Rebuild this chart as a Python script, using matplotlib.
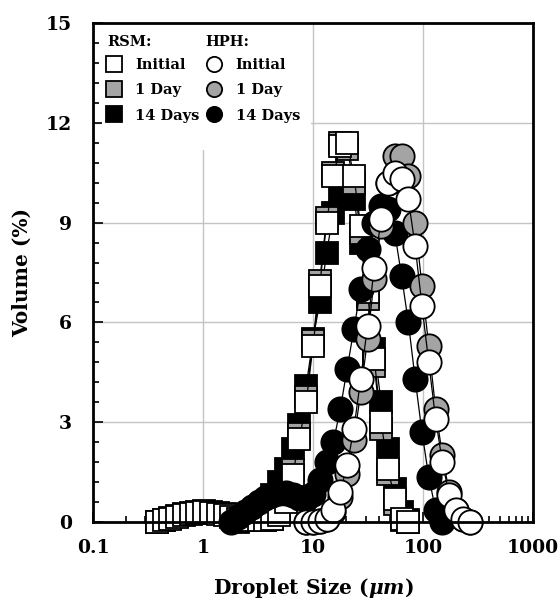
import numpy as np
import matplotlib
matplotlib.use('Agg')
import matplotlib.pyplot as plt
from matplotlib.patches import Rectangle
from matplotlib.lines import Line2D
from matplotlib.ticker import FixedLocator, MultipleLocator, NullFormatter

plt.rcParams['font.family'] = ['DejaVu Serif']
plt.rcParams['font.weight'] = 'bold'
plt.rcParams['mathtext.fontset'] = 'custom'
plt.rcParams['mathtext.it'] = 'DejaVu Serif:italic:bold'
plt.rcParams['mathtext.rm'] = 'DejaVu Serif:bold'

# droplet size bins (um) and volume (%)
rsm_init_x = [0.38, 0.44, 0.50, 0.58, 0.67, 0.77, 0.89, 1.03, 1.18, 1.36, 1.57, 1.81, 2.09, 2.41,
              2.78, 3.20, 3.69, 4.26, 4.91, 5.66, 6.52, 7.52, 8.67, 10.0, 11.5, 13.3, 15.3, 17.7,
              20.4, 23.5, 27.1, 31.3, 36.0, 41.6, 47.9, 55.3, 63.7, 73.5]
rsm_init_y = [0.0, 0.05, 0.10, 0.15, 0.20, 0.25, 0.28, 0.30, 0.28, 0.25, 0.20, 0.15, 0.10, 0.08,
              0.06, 0.05, 0.05, 0.08, 0.20, 0.60, 1.40, 2.50, 3.60, 5.30, 7.10, 9.00, 10.4, 11.3,
              11.4, 10.4, 8.90, 6.90, 4.90, 3.00, 1.60, 0.70, 0.10, 0.0]

rsm_1d_x = rsm_init_x
rsm_1d_y = [0.0, 0.06, 0.12, 0.18, 0.23, 0.28, 0.31, 0.33, 0.31, 0.28, 0.23, 0.18, 0.12, 0.09,
            0.07, 0.06, 0.06, 0.10, 0.30, 0.75, 1.55, 2.65, 3.75, 5.45, 7.25, 9.15, 10.5, 11.4,
            11.2, 10.2, 8.70, 6.70, 4.70, 2.80, 1.45, 0.55, 0.05, 0.0]

rsm_14d_x = [2.09, 2.41, 2.78, 3.20, 3.69, 4.26, 4.91, 5.66, 6.52, 7.52, 8.67, 10.0, 11.5, 13.3,
             15.3, 17.7, 20.4, 23.5, 27.1, 31.3, 36.0, 41.6, 47.9, 55.3, 63.7, 73.5]
rsm_14d_y = [0.0, 0.05, 0.10, 0.20, 0.40, 0.80, 1.20, 1.60, 2.20, 2.90, 4.10, 5.50, 6.60, 8.10,
             9.30, 9.80, 9.80, 9.70, 8.40, 6.80, 5.20, 3.60, 2.20, 1.00, 0.30, 0.05]

hph_init_x = [8.67, 10.0, 11.5, 13.3, 15.3, 17.7, 20.4, 23.5, 27.1, 31.3, 36.0, 41.6, 47.9, 55.3,
              63.7, 73.5, 84.7, 97.7, 112.6, 129.9, 149.7, 172.6, 199.0, 229.5, 264.6]
hph_init_y = [0.0, 0.0, 0.02, 0.10, 0.36, 0.90, 1.70, 2.80, 4.30, 5.90, 7.65, 9.10, 10.2, 10.5,
              10.3, 9.70, 8.30, 6.50, 4.80, 3.10, 1.80, 0.80, 0.35, 0.10, 0.0]

hph_1d_x = hph_init_x
hph_1d_y = [0.0, 0.0, 0.02, 0.08, 0.30, 0.75, 1.45, 2.45, 3.90, 5.50, 7.30, 8.90, 10.2, 11.0,
            11.0, 10.4, 9.00, 7.10, 5.30, 3.40, 2.00, 0.90, 0.35, 0.10, 0.0]

hph_14d_x = [1.81, 2.09, 2.41, 2.78, 3.20, 3.69, 4.26, 4.91, 5.66, 6.52, 7.52, 8.67, 10.0, 11.5,
             13.3, 15.3, 17.7, 20.4, 23.5, 27.1, 31.3, 36.0, 41.6, 47.9, 55.3, 63.7, 73.5, 84.7,
             97.7, 112.6, 129.9, 149.7]
hph_14d_y = [0.0, 0.15, 0.30, 0.45, 0.60, 0.72, 0.82, 0.88, 0.88, 0.82, 0.72, 0.68, 0.85, 1.25,
             1.80, 2.40, 3.40, 4.60, 5.80, 7.00, 8.20, 9.00, 9.50, 9.40, 8.70, 7.40, 6.00, 4.30,
             2.70, 1.36, 0.36, 0.0]

GRAY = '#a4a4a4'

fig = plt.figure(figsize=(5.6, 6.09), dpi=100)
ax = fig.add_axes([0.166, 0.143, 0.786, 0.819])

# drawing order: 14 days below, initial on top; circles over squares
series = [
    (rsm_14d_x, rsm_14d_y, 's', 'black', 16),
    (rsm_1d_x, rsm_1d_y, 's', GRAY, 16),
    (rsm_init_x, rsm_init_y, 's', 'white', 16),
    (hph_14d_x, hph_14d_y, 'o', 'black', 17.5),
    (hph_1d_x, hph_1d_y, 'o', GRAY, 17.5),
    (hph_init_x, hph_init_y, 'o', 'white', 17.5),
]
for i, (x, y, m, fc, ms) in enumerate(series):
    ax.plot(x, y, color='black', lw=0.9, marker=m, ms=ms, mfc=fc, mec='black',
            mew=1.3, zorder=3 + i, clip_on=False)

ax.set_xscale('log')
ax.set_xlim(0.1, 1000)
ax.set_ylim(0, 15)
ax.xaxis.set_major_locator(FixedLocator([0.1, 1, 10, 100, 1000]))
ax.set_xticklabels(['0.1', '1', '10', '100', '1000'])
ax.xaxis.set_minor_locator(FixedLocator([k * 10.0 ** e for e in range(-1, 3) for k in range(2, 10)]))
ax.xaxis.set_minor_formatter(NullFormatter())
ax.yaxis.set_major_locator(MultipleLocator(3))
ax.yaxis.set_minor_locator(MultipleLocator(0.6))

ax.tick_params(which='both', direction='in', top=False, right=False, width=1.2)
ax.tick_params(which='major', length=7, labelsize=13.5)
ax.tick_params(axis='x', which='major', pad=12)
ax.tick_params(axis='y', which='major', pad=15)
ax.tick_params(which='minor', length=4)
for lab in ax.get_xticklabels() + ax.get_yticklabels():
    lab.set_fontweight('bold')

for s in ax.spines.values():
    s.set_linewidth(2)
    s.set_zorder(20)

ax.set_axisbelow(True)
ax.grid(True, which='major', color='#c4c4c4', lw=1)

# white area behind the legend
ax.add_patch(Rectangle((0.02, 0.745), 0.475, 0.255, transform=ax.transAxes,
                       facecolor='white', edgecolor='none', zorder=1))

ax.set_xlabel(r'Droplet Size ($\mathit{\mu m}$)', fontsize=14.5, fontweight='bold', labelpad=14)
ax.set_ylabel('Volume (%)', fontsize=14.5, fontweight='bold', labelpad=10)

handles = [
    Line2D([], [], ls='none', marker='s', ms=11, mfc='white', mec='black', mew=1.3),
    Line2D([], [], ls='none', marker='s', ms=11, mfc=GRAY, mec='black', mew=1.3),
    Line2D([], [], ls='none', marker='s', ms=11, mfc='black', mec='black', mew=1.3),
    Line2D([], [], ls='none', marker='o', ms=11, mfc='white', mec='black', mew=1.3),
    Line2D([], [], ls='none', marker='o', ms=11, mfc=GRAY, mec='black', mew=1.3),
    Line2D([], [], ls='none', marker='o', ms=11, mfc='black', mec='black', mew=1.3),
]
labels = ['Initial', '1 Day', '14 Days', 'Initial', '1 Day', '14 Days']
leg = ax.legend(handles, labels, ncol=2, loc='upper left', bbox_to_anchor=(0.007, 0.951),
                frameon=False, handlelength=1.0, handletextpad=1.0, columnspacing=0.45,
                labelspacing=0.78, borderaxespad=0.3, prop={'size': 10.5, 'weight': 'bold'})
leg.set_zorder(30)
ax.text(0.032, 0.962, 'RSM:', transform=ax.transAxes, fontsize=10.5, fontweight='bold',
        va='center', ha='left', zorder=30)
ax.text(0.255, 0.962, 'HPH:', transform=ax.transAxes, fontsize=10.5, fontweight='bold',
        va='center', ha='left', zorder=30)

fig.savefig('out.png', dpi=100)
